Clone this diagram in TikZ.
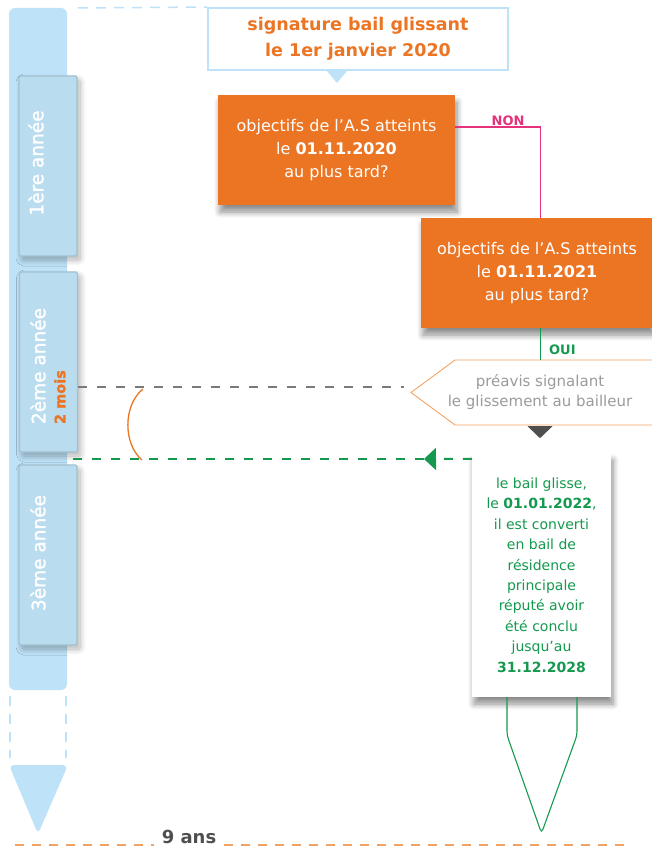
\documentclass[tikz,border=0pt]{standalone}
\usepackage{fontspec}
\setmainfont{DejaVu Sans}
\newfontfamily\tabfont[FakeBold=1.6]{DejaVu Sans}
\usetikzlibrary{calc,arrows.meta,shadows.blur}
\definecolor{bleuclair}{HTML}{BEE2F7}
\definecolor{bleutab}{HTML}{B9DCEE}
\definecolor{bordtab}{HTML}{A3C0CE}
\definecolor{orangeas}{HTML}{EC7524}
\definecolor{orangeclair}{HTML}{F2A263}
\definecolor{rosenon}{HTML}{E4337A}
\definecolor{vertoui}{HTML}{14994F}
\definecolor{grisdash}{HTML}{7A7A7A}
\definecolor{gristexte}{HTML}{9B9B9B}
\definecolor{grisfonce}{HTML}{4F4F4F}

\begin{document}
\begin{tikzpicture}[x=1pt,y=-1pt,
  yeartab/.style={draw=bordtab, line width=1.2pt, fill=bleutab, rounded corners=1.5pt, minimum width=58pt, minimum height=180pt, inner sep=0pt, blur shadow={shadow xshift=3pt, shadow yshift=-4pt, shadow opacity=30, shadow blur radius=6pt, shadow blur steps=10}},
  tablabel/.style={rotate=90, text=white, inner sep=0pt, font=\tabfont\fontsize{18.5}{20}\selectfont},
  qbox/.style={fill=orangeas, text=white, align=center, inner sep=0pt, font=\fontsize{16}{23}\selectfont, blur shadow={shadow xshift=2pt, shadow yshift=-7pt, shadow opacity=45, shadow blur radius=6pt, shadow blur steps=8}},
  bluedash/.style={bleuclair, line width=1.5pt, dash pattern=on 10pt off 8pt},
  greydash/.style={grisdash, line width=2pt, dash pattern=on 9pt off 10pt},
  greendash/.style={vertoui, line width=2pt, dash pattern=on 9pt off 10pt},
  rulerdash/.style={orangeclair, line width=2.5pt, dash pattern=on 9pt off 8pt}]
  \useasboundingbox (0,0) rectangle (652,848);

  \fill[bleuclair, rounded corners=6pt] (9,8) rectangle (67,690);
  \draw[bluedash] (10,696) -- (10,758);
  \draw[bluedash] (66,696) -- (66,758);
  \fill[bleuclair, rounded corners=5pt] (9,765) -- (68,765) -- (38,834) -- cycle;

  \node[yeartab] (tab1) at (48,166) {};
  \node[yeartab] (tab2) at (48.5,362) {};
  \node[yeartab] (tab3) at (48,555) {};
  \node[tablabel] (lab1) at (36,163) {1ère année};
  \node[tablabel, align=left] (lab2) at (48,366) {2ème année\\{\color{orangeas}\bfseries\fontsize{14.5}{18}\selectfont 2 mois}};
  \node[tablabel] (lab3) at (38,553) {3ème année};

  \node[draw=bleuclair, line width=2pt, fill=white, minimum width=300pt, minimum height=62pt, inner sep=0pt, align=center, text=orangeas, font=\bfseries\fontsize{17.5}{26}\selectfont] (sig) at (358,39) {signature bail glissant\\le 1er janvier 2020};
  \draw[bluedash] (78,8) -- (sig.north west);
  \fill[bleuclair] ($(sig.south)+(-31,0)$) -- ++(20,0) -- ++(-10,12) -- cycle;

  \node[qbox, minimum width=237pt, minimum height=110pt] (q1) at (336.5,150) {objectifs de l’A.S atteints\\le \textbf{01.11.2020}\\au plus tard?};
  \node[qbox, minimum width=232pt, minimum height=110pt] (q2) at (537,273) {objectifs de l’A.S atteints\\le \textbf{01.11.2021}\\au plus tard?};

  \node[text=gristexte, align=center, inner sep=0pt, minimum height=65pt, font=\fontsize{15}{20}\selectfont] (preavis) at (540,392.5) {préavis signalant\\le glissement au bailleur};
  \draw[orangeclair, line width=0.9pt] (654,360) -- (455,360) -- (411,392.5) -- (455,425) -- (654,425);
  \fill[grisfonce] ([xshift=-12.5pt,yshift=-1pt]preavis.south) -- ++(25,0) -- ++(-12.5,12) -- cycle;

  \node[fill=white, text=vertoui, align=center, inner sep=0pt, minimum width=139pt, minimum height=244pt, font=\fontsize{14}{20.4}\selectfont, blur shadow={shadow xshift=2pt, shadow yshift=-7pt, shadow opacity=45, shadow blur radius=6pt, shadow blur steps=8}] (bail) at (541.5,575) {le bail glisse,\\le \textbf{01.01.2022},\\il est converti\\en bail de\\résidence\\principale\\réputé avoir\\été conclu\\jusqu’au\\\textbf{31.12.2028}};

  \draw[rosenon, line width=1.3pt] ([yshift=23pt]q1.east) -| ([xshift=3.5pt]q2.north) node[pos=0.31, above, inner sep=0.5pt, text=rosenon, font=\bfseries\fontsize{13}{14}\selectfont] {NON};
  \draw[vertoui, line width=1.3pt] ([xshift=3.5pt]q2.south) -- ([xshift=3.5pt]q2.south |- preavis.north) node[pos=0.68, right=8pt, inner sep=0pt, font=\bfseries\fontsize{13}{14}\selectfont] {OUI};

  \coordinate (noticeend) at (404,387);
  \coordinate (arrowtip) at (424,459);
  \coordinate (slidestart) at (73,459);
  \draw[greydash] (tab2.east |- noticeend) -- (noticeend);
  \draw[greendash, -{Triangle[length=12pt,width=22pt]}] ([yshift=-6pt]bail.north west) -- (arrowtip);
  \draw[greendash] (arrowtip) -- (slidestart);
  \draw[orangeas, line width=1.3pt] (143,389) .. controls (123,405) and (123,444) .. (142,460);

  \draw[vertoui, line width=1.1pt, rounded corners=4pt] ($(bail.south)+(-34.5,0)$) -- ++(0,38) -- ($(bail.south)+(0,136)$) -- ($(bail.south)+(35.5,38)$) -- ++(0,-38);

  \node[anchor=base, inner xsep=8pt, inner ysep=0pt, text=grisfonce, font=\bfseries\fontsize{18}{20}\selectfont] (neuf) at (189,843) {9 ans};
  \draw[rulerdash] (15,845) -- (neuf.base west |- 0,845);
  \draw[rulerdash] (neuf.base east |- 0,845) -- (632,845);
\end{tikzpicture}
\end{document}
